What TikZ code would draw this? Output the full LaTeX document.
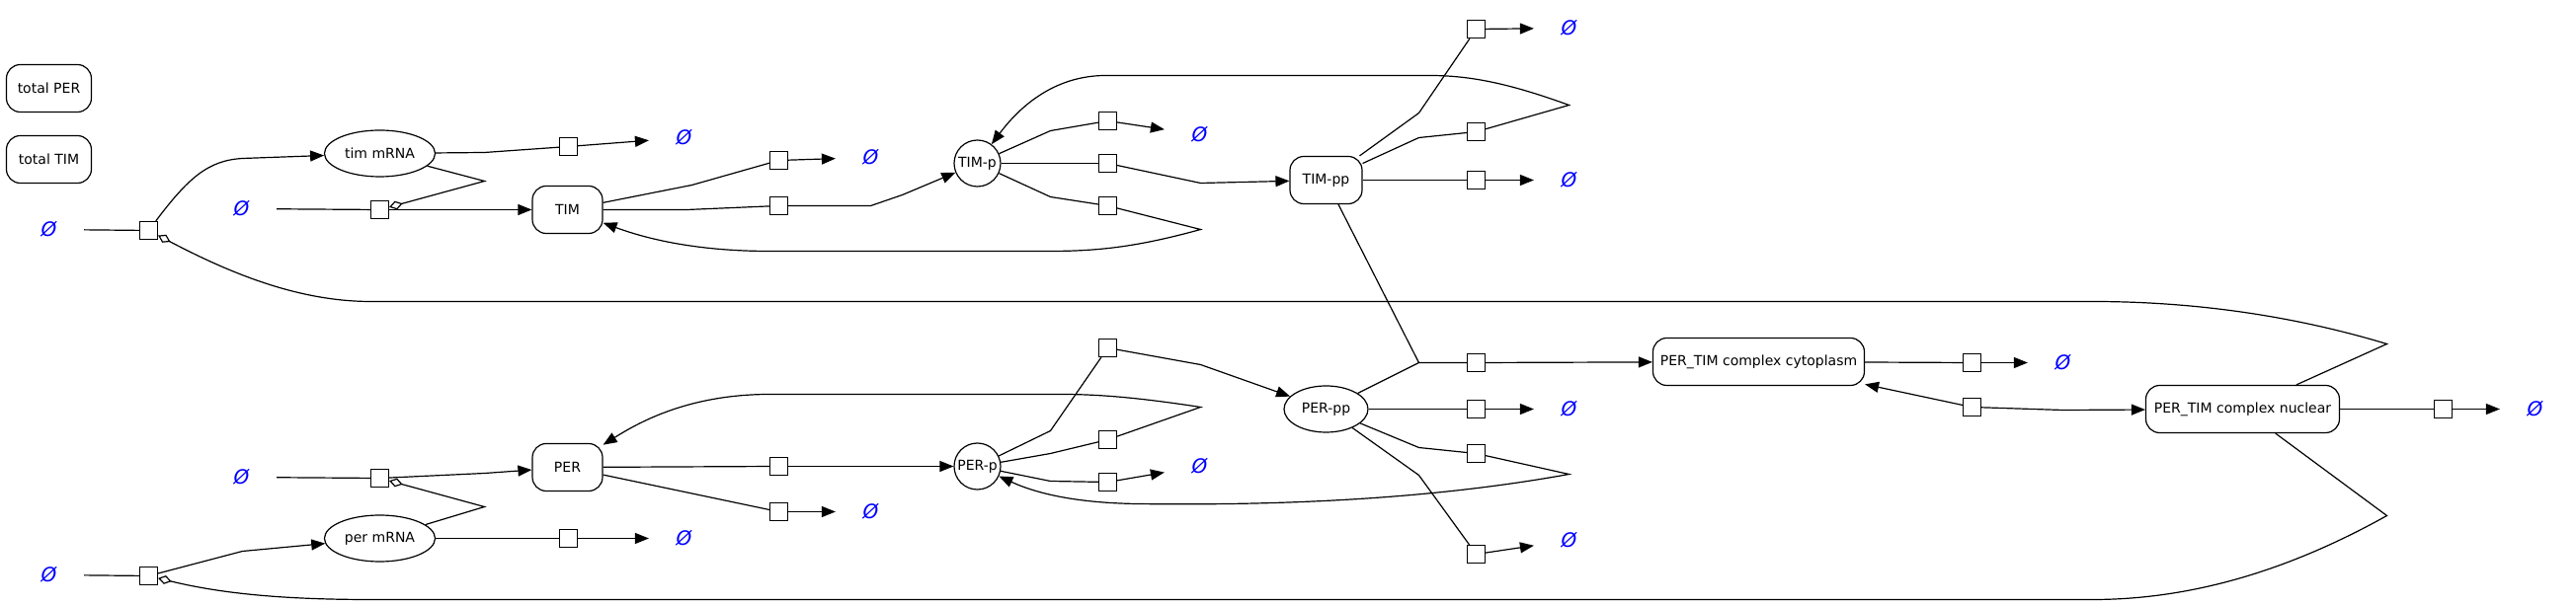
\documentclass[tikz,border=0pt]{standalone}
\usepackage{fontspec}
\setmainfont{DejaVu Sans}
\usetikzlibrary{arrows.meta,shapes.geometric}

\begin{document}
        \begin{tikzpicture}[x=0.5pt,y=-0.5pt,line width=0.6pt,
              every node/.style={font=\fontsize{7}{8}\selectfont,inner sep=0pt},
              species/.style={draw,rectangle,rounded corners=7pt,minimum height=24pt},
              rna/.style={draw,ellipse,minimum width=56pt,minimum height=23.5pt},
              phos/.style={draw,circle,minimum size=23.5pt},
              reac/.style={draw,rectangle,minimum size=9pt,fill=white},
              sink/.style={text=blue,font=\fontsize{10}{10}\selectfont\itshape,minimum width=35pt,minimum height=14pt},
              prod/.style={-{Triangle[length=7pt,width=5.5pt]}},
              modif/.style={-{Diamond[open,length=7pt,width=4.5pt]}}]
              \useasboundingbox (-0.5,-0.5) rectangle (2607.5,612.5);
              \node[species,minimum width=43pt] (totPER) at (49,89) {total PER};
              \node[species,minimum width=43pt] (totTIM) at (49,161) {total TIM};
              \node[rna] (timm) at (384,155) {tim mRNA};
              \node[species,minimum width=35.5pt] (TIM) at (574,212) {TIM};
              \node[phos] (TIMp) at (989,165) {TIM-p};
              \node[species,minimum width=36.5pt] (TIMpp) at (1342,182) {TIM-pp};
              \node[rna] (perm) at (384,545) {per mRNA};
              \node[species,minimum width=35.5pt] (PER) at (574,473) {PER};
              \node[phos] (PERp) at (989,472) {PER-p};
              \node[rna,minimum width=42.5pt] (PERpp) at (1342,414) {PER-pp};
              \node[species,minimum width=107pt] (cyto) at (1780,366) {PER\_TIM complex cytoplasm};
              \node[species,minimum width=98pt] (nucl) at (2270,414) {PER\_TIM complex nuclear};
              \foreach \n/\x/\y in {nil1/49/232, nil2/244/211, nil3/692/139, nil4/881/159, nil5/1214/136,
                  nil6/1588/28, nil7/1588/182, nil8/244/483, nil9/692/545, nil10/49/582, nil11/881/518,
                  nil12/1214/472, nil13/1588/414, nil14/1588/547, nil15/2088/367, nil16/2566/414}
                \node[sink] (\n) at (\x,\y) {Ø};
              \foreach \n/\x/\y in {r1/150/233, r2/575/148, r3/384/212, r4/788/162, r5/788/208, r6/1121/122,
                  r7/1121/165, r8/1121/208, r9/1494/29, r10/1494/133, r11/1494/182, r12/150/583, r13/575/545,
                  r14/384/484, r15/788/518, r16/788/472, r17/1121/352, r18/1121/488, r19/1121/445,
                  r20/1494/367, r21/1494/414, r22/1494/459, r23/1494/561, r24/1996/367, r25/1996/412, r26/2473/414}
                \node[reac] (\n) at (\x,\y) {};
              \draw (nil1) -- (r1);
              \draw[prod] (r1) .. controls (190,180) and (210,162) .. (245,160) -- (timm);
              \draw (timm) -- (490,154) -- (r2);
              \draw[prod] (r2) -- (nil3);
              \draw[modif] (timm) -- (490,183) -- (r3);
              \draw (nil2) -- (r3);
              \draw[prod] (r3) -- (TIM);
              \draw (TIM) -- (700,187) -- (r4);
              \draw[prod] (r4) -- (nil4);
              \draw (TIM) -- (695,212) -- (r5);
              \draw[prod] (r5) -- (881,208) -- (913,197) -- (TIMp);
              \draw (TIMp) -- (1063,132) -- (r6);
              \draw[prod] (r6) -- (nil5);
              \draw (TIMp) -- (r7);
              \draw[prod] (r7) -- (1215,185) -- (TIMpp);
              \draw (TIMp) -- (1063,199) -- (r8);
              \draw[prod] (r8) -- (1215,232) .. controls (1150,250) and (1110,254) .. (1061,254) -- (779,254) .. controls (700,254) and (650,240) .. (TIM);
              \draw (TIMpp) -- (1436,114) -- (r9);
              \draw[prod] (r9) -- (nil6);
              \draw (TIMpp) -- (1436,139) -- (r10);
              \draw[prod] (r10) -- (1588,106) .. controls (1530,85) and (1490,76) .. (1447,76) -- (1119,76) .. controls (1065,76) and (1030,110) .. (TIMp);
              \draw (TIMpp) -- (r11);
              \draw[prod] (r11) -- (nil7);
              \draw (nil10) -- (r12);
              \draw[prod] (r12) -- (245,558) -- (perm);
              \draw (perm) -- (r13);
              \draw[prod] (r13) -- (nil9);
              \draw[modif] (perm) -- (490,513) -- (r14);
              \draw (nil8) -- (r14);
              \draw[prod] (r14) -- (490,479) -- (PER);
              \draw (PER) -- (r15);
              \draw[prod] (r15) -- (nil11);
              \draw (PER) -- (r16);
              \draw[prod] (r16) -- (PERp);
              \draw (PERp) -- (1063,436) -- (r17);
              \draw[prod] (r17) -- (1215,369) -- (PERpp);
              \draw (PERp) -- (1063,487) -- (r18);
              \draw[prod] (r18) -- (nil12);
              \draw (PERp) -- (1063,459) -- (r19);
              \draw[prod] (r19) -- (1215,412) .. controls (1150,402) and (1110,399) .. (1074,399) -- (779,399) .. controls (700,399) and (650,425) .. (PER);
              \draw (PERpp) -- (1436,367) -- (r20);
              \draw (TIMpp) -- (1436,367);
              \draw[prod] (r20) -- (cyto);
              \draw (PERpp) -- (r21);
              \draw[prod] (r21) -- (nil13);
              \draw (PERpp) -- (1436,453) -- (r22);
              \draw[prod] (r22) -- (1588,480) .. controls (1450,505) and (1300,512) .. (1150,510) .. controls (1090,509) and (1050,500) .. (PERp);
              \draw (PERpp) -- (1436,481) -- (r23);
              \draw[prod] (r23) -- (nil14);
              \draw (cyto) -- (r24);
              \draw[prod] (r24) -- (nil15);
              \draw[prod] (r25) -- (cyto);
              \draw[prod] (r25) -- (2088,415) -- (nucl);
              \draw (nucl) -- (r26);
              \draw[prod] (r26) -- (nil16);
              \draw[modif] (nucl) -- (2416,348) .. controls (2330,322) and (2230,305) .. (2118,305) -- (375,305) .. controls (300,305) and (230,275) .. (r1);
              \draw[modif] (nucl) -- (2416,522) .. controls (2330,570) and (2230,607) .. (2118,607) -- (375,607) .. controls (280,607) and (220,600) .. (r12);
        \end{tikzpicture}
\end{document}
